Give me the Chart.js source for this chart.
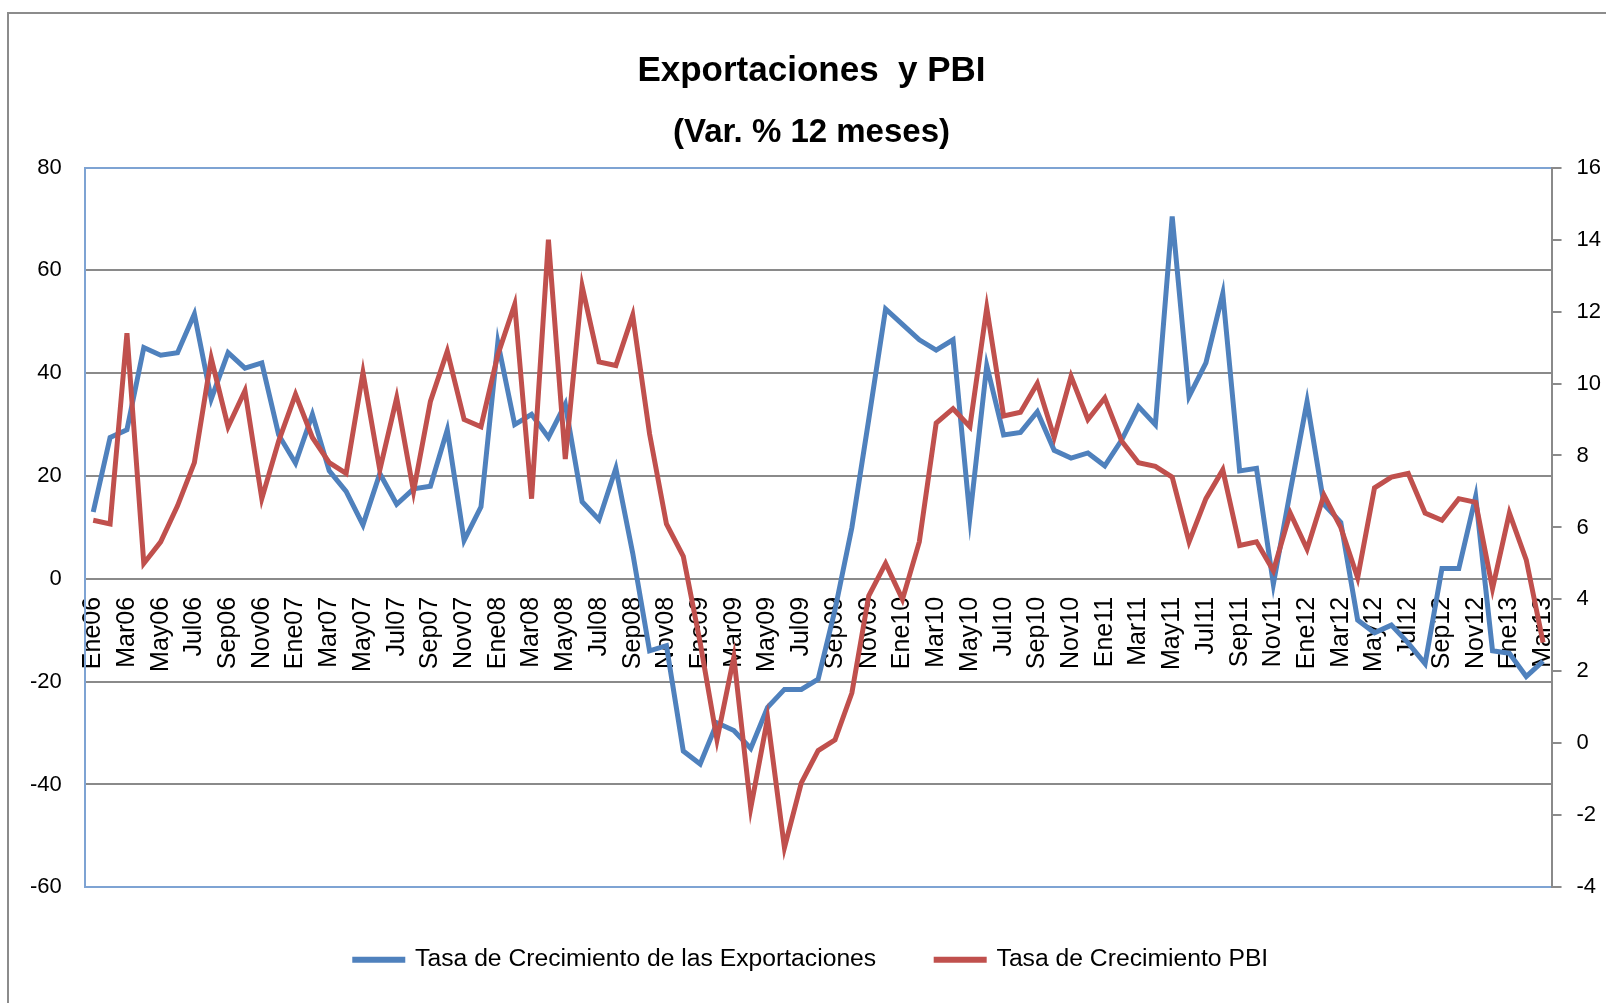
<!DOCTYPE html>
<html>
<head>
<meta charset="utf-8">
<script src="https://cdn.jsdelivr.net/npm/chart.js"></script>
<style>
  body { margin: 0; background: #fff; overflow: hidden; }
  #marco { position: absolute; left: 7px; top: 12px; width: 1610px; height: 1000px;
           border-left: 2px solid #8c8c8c; border-top: 2px solid #8c8c8c; }
  #caja { position: absolute; left: 0; top: 0; width: 1606px; height: 1003px; }
</style>
</head>
<body>
<div id="marco"></div>
<div id="caja"><canvas id="myChart"></canvas></div>
<script>
// categorias: Ene06 .. Mar13
const meses = ['Ene', 'Feb', 'Mar', 'Abr', 'May', 'Jun', 'Jul', 'Ago', 'Sep', 'Oct', 'Nov', 'Dic'];
const anios = ['06', '07', '08', '09', '10', '11', '12', '13'];
const labels = [];
anios.forEach(a => meses.forEach(m => labels.push(m + a)));
labels.length = 87;

// Tasa de crecimiento de las exportaciones (eje izq.)
const exportaciones = [
    13, 27.5, 29, 45, 43.5, 44, 51.5, 35, 44, 41, 42, 28,
    22.5, 32, 21, 17, 10.5, 20.5, 14.5, 17.5, 18, 29, 7.5, 14,
    46, 30, 32, 27.5, 34, 15, 11.5, 21.5, 5, -14, -13, -33.5,
    -36, -28, -29.5, -33, -25, -21.5, -21.5, -19.5, -6, 10, 31, 52.5,
    49.5, 46.5, 44.5, 46.5, 12, 41.5, 28, 28.5, 32.5, 25, 23.5, 24.5,
    22, 27, 33.5, 30, 70.5, 35.5, 42, 55.5, 21, 21.5, -1, 17,
    34.5, 14.5, 11, -8, -10.5, -9, -12.5, -16.5, 2, 2, 16, -14,
    -14.5, -19, -16
];

// Tasa de crecimiento PBI (eje der.)
const pbi = [
    6.2, 6.1, 11.4, 5.0, 5.6, 6.6, 7.8, 10.7, 8.8, 9.8, 6.8, 8.4,
    9.7, 8.5, 7.8, 7.5, 10.3, 7.6, 9.6, 7.0, 9.5, 10.9, 9.0, 8.8,
    10.8, 12.2, 6.8, 14.0, 7.9, 12.7, 10.6, 10.5, 11.9, 8.6, 6.1, 5.2,
    2.8, 0.1, 2.4, -1.8, 0.7, -2.9, -1.1, -0.2, 0.1, 1.4, 4.1, 5.0,
    4.0, 5.6, 8.9, 9.3, 8.8, 12.1, 9.1, 9.2, 10.0, 8.5, 10.2, 9.0,
    9.6, 8.4, 7.8, 7.7, 7.4, 5.6, 6.8, 7.6, 5.5, 5.6, 4.8, 6.4,
    5.4, 6.9, 6.0, 4.6, 7.1, 7.4, 7.5, 6.4, 6.2, 6.8, 6.7, 4.3,
    6.4, 5.1, 2.8
];

Chart.defaults.font.family = "'Liberation Sans', Arial, sans-serif";
Chart.defaults.color = '#000';

const ctx = document.getElementById('myChart');
const myChart = new Chart(ctx, {
    type: 'line',
    data: {
        labels: labels,
        datasets: [{
            label: 'Tasa de Crecimiento de las Exportaciones',
            data: exportaciones,
            yAxisID: 'y',
            borderColor: '#4F81BD',
            backgroundColor: '#4F81BD',
            borderWidth: 5,
            pointRadius: 0,
            order: 2
        }, {
            label: 'Tasa de Crecimiento PBI',
            data: pbi,
            yAxisID: 'y1',
            borderColor: '#C0504D',
            backgroundColor: '#C0504D',
            borderWidth: 5,
            pointRadius: 0,
            order: 1
        }]
    },
    options: {
        responsive: true,
        maintainAspectRatio: false,
        animation: false,
        layout: { padding: { left: 7, right: -10, top: 0, bottom: 21 } },
        plugins: {
            tooltip: { enabled: false },
            title: {
                display: true,
                text: 'Exportaciones  y PBI',
                font: { size: 35, weight: 'bold' },
                padding: { top: 50, bottom: 21 }
            },
            subtitle: {
                display: true,
                text: '(Var. % 12 meses)',
                color: '#000',
                font: { size: 33, weight: 'bold' },
                padding: { top: 0, bottom: 15 }
            },
            legend: {
                position: 'bottom',
                labels: {
                    font: { size: 24.7 },
                    boxWidth: 48,
                    boxHeight: 1,
                    padding: 60,
                    sort: (a, b) => a.datasetIndex - b.datasetIndex
                }
            }
        },
        scales: {
            x: {
                position: { y: 0 },
                offset: true,
                z: 1,
                grid: { display: false, drawTicks: false },
                border: { display: false },
                ticks: {
                    autoSkip: false,
                    minRotation: 90,
                    maxRotation: 90,
                    padding: 18,
                    font: { size: 25 },
                    callback: function (val, i) { return i % 2 === 0 ? this.getLabelForValue(val) : ''; }
                }
            },
            y: {
                position: 'left',
                min: -60,
                max: 80,
                ticks: { stepSize: 20, padding: 23, font: { size: 22 } },
                grid: {
                    drawTicks: false,
                    lineWidth: 2,
                    color: c => (c.tick.value === 80 || c.tick.value === -60) ? '#7ea3d3' : '#8a8a8a'
                },
                border: { color: '#7ea3d3', width: 2 }
            },
            y1: {
                position: 'right',
                min: -4,
                max: 16,
                ticks: { stepSize: 2, padding: 15, font: { size: 22 } },
                grid: { drawOnChartArea: false, tickLength: 10, color: '#8a8a8a', lineWidth: 2 },
                border: { color: '#8a8a8a', width: 2 }
            }
        }
    }
});
</script>
</body>
</html>
